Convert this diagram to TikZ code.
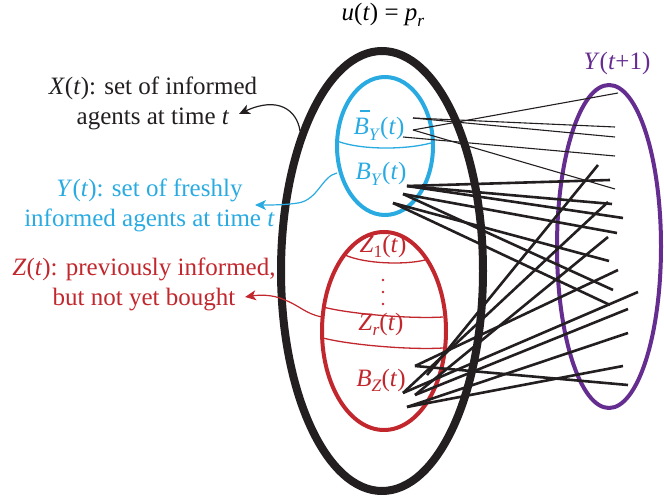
\documentclass[tikz,border=0pt]{standalone}
\usepackage{fontspec}
\setmainfont{Liberation Serif}
\usetikzlibrary{arrows.meta}
\definecolor{cblue}{RGB}{41,171,226}
\definecolor{cred}{RGB}{193,39,45}
\definecolor{cpurple}{RGB}{102,45,145}
\definecolor{cblack}{RGB}{35,31,32}
\newcommand\iv[1]{\textit{#1}}
\newcommand\sbs[1]{\raisebox{-0.22em}{\fontsize{17.5}{18}\selectfont #1}}
\newcommand\barB{\rlap{\hspace{0.24em}\rule[0.93em]{0.4em}{0.06em}}\textit{B}}
\begin{document}
\begin{tikzpicture}[x=1pt,y=-1pt,
  font=\fontsize{25}{29}\selectfont,
  lbl/.style={anchor=base,inner sep=0pt,outer sep=0pt},
  thinln/.style={cblack,line width=1.1pt},
  thickln/.style={cblack,line width=2.6pt},
  pointer/.style={line width=1.2pt,-{Stealth[length=11pt,width=10pt,inset=3pt]}},
  divider/.style={line width=1.3pt}]
\useasboundingbox (0,0) rectangle (664,497);

% ellipses
\draw[cblack,line width=8pt] (382,271) ellipse [x radius=101pt, y radius=220pt];
\draw[cblue,line width=4pt] (385,146) ellipse [x radius=48pt, y radius=69pt];
\draw[cred,line width=4pt] (384,331) ellipse [x radius=62pt, y radius=99pt];
\draw[cpurple,line width=4pt] (609,246.5) ellipse [x radius=52pt, y radius=161.5pt];

% dividers
\draw[cblue,divider] (337,141) .. controls (360,150) and (405,150) .. (431,143);
\draw[cred,divider] (345,255) .. controls (365,264) and (405,265) .. (425,260);
\draw[cred,divider] (323,307) .. controls (350,314) and (410,319) .. (443,317);
\draw[cred,divider] (323,338) .. controls (350,345) and (410,350) .. (443,348);

% top labels
\node[lbl] (ut) at (383,21) {\iv{u}(\iv{t}) = \iv{p}\sbs{\iv{r}}};
\node[lbl,text=cpurple] (yt1) at (617,70) {\iv{Y}(\iv{t}+1)};

% inner labels
\node[lbl,text=cblue] (bby) at (379,135) {\barB\sbs{\iv{Y}}(\iv{t})};
\node[lbl,text=cblue] (by) at (381,180) {\iv{B}\sbs{\iv{Y}}(\iv{t})};
\node[lbl,text=cred] (z1) at (383,252) {\iv{Z}\sbs{1}(\iv{t})};
\node[lbl,text=cred] (zr) at (381,330) {\iv{Z}\sbs{\iv{r}}(\iv{t})};
\node[lbl,text=cred] (bz) at (381,386) {\iv{B}\sbs{\iv{Z}}(\iv{t})};
\foreach \yy [count=\i] in {280,292,304}
  \fill[cred] (383,\yy) circle (1.4pt) coordinate (dot\i);

% side labels
\node[lbl,text=cblack] (xl1) at (153,95) {\iv{X}(\iv{t}): set of informed};
\node[lbl,text=cblack] (xl2) at (153,125) {agents at time \iv{t}};
\node[lbl,text=cblue] (yl1) at (149.5,197) {\iv{Y}(\iv{t}): set of freshly};
\node[lbl,text=cblue] (yl2) at (149.5,227) {informed agents at time \iv{t}};
\node[lbl,text=cred] (zl1) at (144,275) {\iv{Z}(\iv{t}): previously informed,};
\node[lbl,text=cred] (zl2) at (144,305) {but not yet bought};

% pointers
\coordinate (xs) at (300,131);
\coordinate (xe) at (239,114);
\coordinate (ys) at (337,173);
\coordinate (ye) at (255,205);
\coordinate (zs) at (322,317);
\coordinate (ze) at (245,297);
\draw[pointer,cblack] (xs) .. controls (297,110) and (278,96) .. (xe);
\draw[pointer,cblue] (ys) .. controls (322,176) and (318,200) .. (298,203) .. controls (285,205) and (272,205) .. (ye);
\draw[pointer,cred] (zs) .. controls (306,314) and (300,306) .. (285,300) .. controls (272,294) and (258,295) .. (ze);

% connection points
\coordinate (s1) at (413,118);
\coordinate (s2) at (413,130);
\coordinate (s3) at (403,137);
\coordinate (p1) at (407,186);
\coordinate (p2) at (403,194);
\coordinate (p3) at (393,203);
\coordinate (sa) at (415,366);
\coordinate (sb) at (427,375);
\coordinate (sc) at (403,393);
\coordinate (sd) at (415,395);
\coordinate (se) at (407,407);

\coordinate (t1) at (615,127);
\coordinate (t2) at (615,137);
\coordinate (t3) at (618,93);
\coordinate (t4) at (615,189);
\coordinate (t5) at (615,156);

\coordinate (e1) at (610,180);
\coordinate (e2) at (612,204);
\coordinate (e3) at (623,218);
\coordinate (e4) at (617,233);
\coordinate (e5) at (613,290);
\coordinate (e6) at (609,261);
\coordinate (e7) at (610,305);

\coordinate (f1) at (628,385);
\coordinate (f2) at (618,270);
\coordinate (f3) at (598,165);
\coordinate (f4) at (608,202);
\coordinate (f5) at (638,292);
\coordinate (f6) at (608,237);
\coordinate (f7) at (628,309);
\coordinate (f8) at (628,333);
\coordinate (f9) at (623,366);

% thin connectors
\draw[thinln] (s1) -- (t1);
\draw[thinln] (s1) -- (t2);
\draw[thinln] (s2) -- (t3);
\draw[thinln] (s2) -- (t4);
\draw[thinln] (s3) -- (t5);

% thick connectors
\draw[thickln] (p1) -- (e1);
\draw[thickln] (p1) -- (e2);
\draw[thickln] (p1) -- (e3);
\draw[thickln] (p2) -- (e4);
\draw[thickln] (p2) -- (e5);
\draw[thickln] (p3) -- (e6);
\draw[thickln] (p3) -- (e7);

\draw[thickln] (sa) -- (f1);
\draw[thickln] (sa) -- (f2);
\draw[thickln] (sb) -- (f3);
\draw[thickln] (sc) -- (f4);
\draw[thickln] (sc) -- (f5);
\draw[thickln] (sd) -- (f6);
\draw[thickln] (sd) -- (f7);
\draw[thickln] (se) -- (f8);
\draw[thickln] (se) -- (f9);
\end{tikzpicture}
\end{document}
